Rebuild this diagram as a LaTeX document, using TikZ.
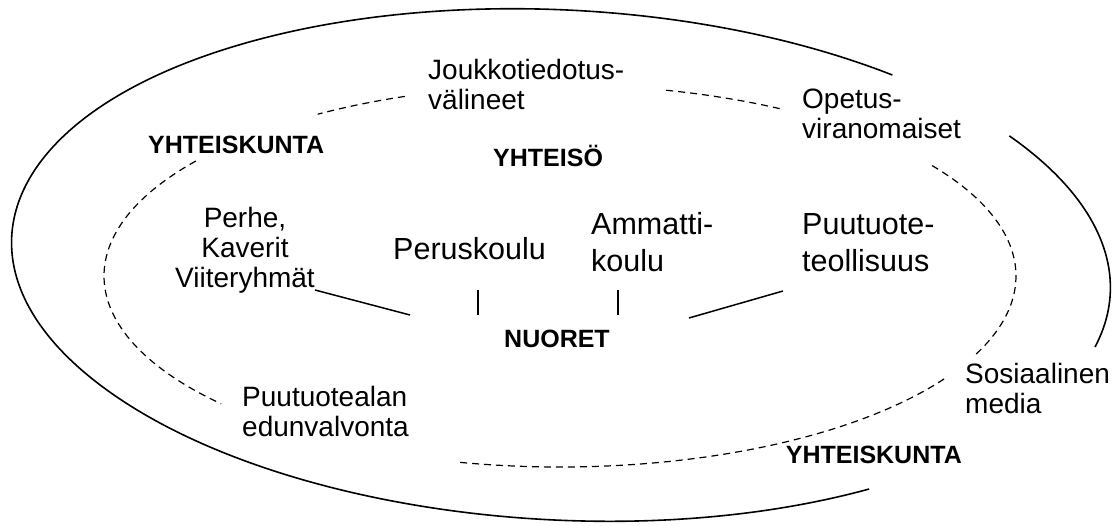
\documentclass[tikz,border=0pt]{standalone}
\usepackage{fontspec}
\setmainfont{Liberation Sans}
\begin{document}
\begin{tikzpicture}[x=1pt,y=1pt]
\useasboundingbox (0,0) rectangle (1115,525);
\tikzset{
  ring/.style={line width=1.6pt},
  dring/.style={line width=1.2pt, dash pattern=on 7pt off 5pt},
  lbl/.style={inner sep=0pt, font=\fontsize{28}{30}\selectfont, align=left, anchor=base west},
  big/.style={inner sep=0pt, font=\fontsize{30.5}{37}\selectfont, align=left, anchor=base west},
  boldlbl/.style={inner sep=0pt, font=\fontsize{25}{30}\selectfont\bfseries},
  conn/.style={line width=1.5pt},
}
% outer ellipse (solid, with gaps)
\begin{scope}[shift={(561,260)}, rotate=-3]
  \draw[ring] (36.7:550pt and 255pt) arc[start angle=36.7, end angle=-12.2, x radius=550pt, y radius=255pt];
  \draw[ring] (-54.5:550pt and 255pt) arc[start angle=-54.5, end angle=-305.7, x radius=550pt, y radius=255pt];
\end{scope}
% inner ellipse (dashed, with gaps)
\begin{scope}[shift={(560,249)}]
  \draw[dring] (109.9:456pt and 191pt) arc[start angle=109.9, end angle=122.1, x radius=456pt, y radius=191pt];
  \draw[dring] (61.2:456pt and 191pt) arc[start angle=61.2, end angle=76.6, x radius=456pt, y radius=191pt];
  \draw[dring] (35.3:456pt and 191pt) arc[start angle=35.3, end angle=-24.5, x radius=456pt, y radius=191pt];
  \draw[dring] (-32.6:456pt and 191pt) arc[start angle=-32.6, end angle=-103, x radius=456pt, y radius=191pt];
  \draw[dring] (143:456pt and 191pt) arc[start angle=143, end angle=222, x radius=456pt, y radius=191pt];
\end{scope}
% labels (multi-line nodes: base = baseline of last line)
\node[boldlbl, anchor=base west] (yk1) at (148,371) {YHTEISKUNTA};
\node[lbl] (jouk) at (428,415) {Joukkotiedotus-\\välineet};
\node[boldlbl, anchor=base west] (yht) at (493,358) {YHTEISÖ};
\node[lbl] (opet) at (802,386) {Opetus-\\viranomaiset};
\node[lbl, align=center, anchor=base] (viite) at (245,237) {Perhe,\\Kaverit\\Viiteryhmät};
\node[big] (perus) at (393,265) {Peruskoulu};
\node[big] (amm) at (591,253.3) {Ammatti-\\koulu};
\node[big] (puut) at (802,253.3) {Puutuote-\\teollisuus};
\node[boldlbl, anchor=base west] (nuo) at (504,177.5) {NUORET};
\node[lbl] (some) at (965,112) {Sosiaalinen\\media};
\node[lbl] (edun) at (242,88.3) {Puutuotealan\\edunvalvonta};
\node[boldlbl, anchor=base east] (yk2) at (962,62) {YHTEISKUNTA};
% connectors
\coordinate (c1) at (410,210);
\coordinate (v1a) at (478,235);
\coordinate (v1b) at (478,210);
\coordinate (v2a) at (618,235);
\coordinate (v2b) at (618,210);
\coordinate (c4a) at (689,207);
\coordinate (c4b) at (783,234);
\draw[conn] (viite.base east) ++(0,-2) -- (c1);
\draw[conn] (v1a) -- (v1b);
\draw[conn] (v2a) -- (v2b);
\draw[conn] (c4a) -- (c4b);
\end{tikzpicture}
\end{document}
